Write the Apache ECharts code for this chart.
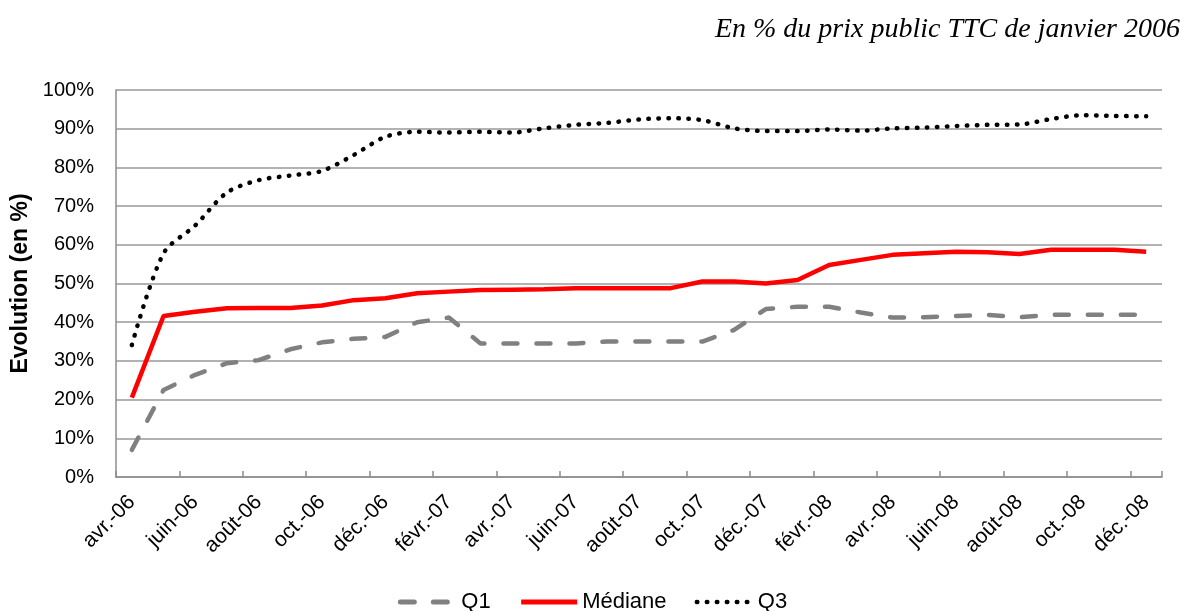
<!DOCTYPE html>
<html>
<head>
<meta charset="utf-8">
<script src="https://cdn.jsdelivr.net/npm/echarts@6/dist/echarts.min.js"></script>
<style>
html,body{margin:0;padding:0;background:#fff;}
#chart{width:1185px;height:611px;}
</style>
</head>
<body>
<div id="chart"></div>
<script>
var categories = ["avr.-06","mai-06","juin-06","juil.-06","août-06","sept.-06","oct.-06","nov.-06","déc.-06",
  "janv.-07","févr.-07","mars-07","avr.-07","mai-07","juin-07","juil.-07","août-07","sept.-07","oct.-07","nov.-07","déc.-07",
  "janv.-08","févr.-08","mars-08","avr.-08","mai-08","juin-08","juil.-08","août-08","sept.-08","oct.-08","nov.-08","déc.-08"];
var q1 = [7.0,22.5,26.4,29.4,30.2,33.0,34.8,35.7,36.2,40.0,41.2,34.5,34.5,34.5,34.5,35.0,35.0,35.0,35.0,38.0,43.4,44.0,44.0,42.5,41.2,41.3,41.6,41.9,41.3,41.9,41.9,41.9,41.9];
var mediane = [20.5,41.6,42.7,43.6,43.7,43.7,44.3,45.7,46.2,47.5,47.9,48.3,48.4,48.5,48.8,48.8,48.8,48.8,50.5,50.5,50.0,50.9,54.8,56.1,57.4,57.8,58.2,58.1,57.6,58.7,58.7,58.7,58.2];
var q3 = [34.1,57.8,65.0,73.5,76.7,77.9,79.1,83.2,87.9,89.2,89.0,89.2,89.0,90.1,91.0,91.5,92.4,92.7,92.2,90.1,89.4,89.4,89.8,89.5,90.1,90.3,90.7,91.0,91.1,92.5,93.5,93.3,93.2];
var yTicks = [0,10,20,30,40,50,60,70,80,90,100];
var titleText = "En % du prix public TTC de janvier 2006";
var yName = "Evolution (en %)";

var chart = echarts.init(document.getElementById('chart'), null, {renderer:'canvas'});
var font = "'Liberation Sans', Arial, sans-serif";
chart.setOption({
  animation: false,
  backgroundColor: '#fff',
  title: {
    text: titleText,
    right: 0, top: 11,
    textStyle: {fontFamily: "'Liberation Serif', serif", fontStyle: 'italic', fontWeight: 'normal', fontSize: 28, color: '#000'}
  },
  legend: {
    top: 586, left: 'center',
    itemWidth: 56, itemHeight: 14, itemGap: 28,
    itemStyle: {opacity: 0},
    textStyle: {fontFamily: font, fontSize: 22, color: '#000'},
    data: [
      {name: 'Q1', lineStyle: {width: 5}},
      {name: 'Médiane', lineStyle: {width: 5}},
      {name: 'Q3', lineStyle: {width: 4.5}}
    ]
  },
  grid: {left: 116, right: 23, top: 90, bottom: 134, containLabel: false},
  xAxis: {
    type: 'category',
    data: categories,
    boundaryGap: true,
    axisLine: {lineStyle: {color: '#8c8c8c', width: 1.5}},
    axisTick: {show: true, inside: true, length: 6, interval: 1, lineStyle: {color: '#8c8c8c', width: 1.5}},
    axisLabel: {interval: 1, rotate: 45, margin: 22, fontFamily: font, fontSize: 21, color: '#000'}
  },
  yAxis: {
    type: 'value', min: 0, max: 100, interval: 10,
    name: yName, nameLocation: 'middle', nameGap: 84,
    nameTextStyle: {fontFamily: font, fontSize: 23, fontWeight: 'bold', color: '#000'},
    axisLine: {show: true, lineStyle: {color: '#8c8c8c', width: 1.5}},
    axisTick: {show: false},
    axisLabel: {margin: 22, fontFamily: font, fontSize: 20, color: '#000', formatter: function(v){return v + '%';}},
    splitLine: {lineStyle: {color: '#999', width: 1.5}}
  },
  series: [
    {name: 'Q1', type: 'line', data: q1, showSymbol: false, symbol: 'none',
     lineStyle: {color: '#808080', width: 4.5, type: [14, 19], cap: 'round'}, itemStyle: {color: '#808080'}},
    {name: 'Médiane', type: 'line', data: mediane, showSymbol: false, symbol: 'none',
     lineStyle: {color: '#ff0000', width: 4.5}, itemStyle: {color: '#ff0000'}},
    {name: 'Q3', type: 'line', data: q3, showSymbol: false, symbol: 'none', smooth: 0.3,
     lineStyle: {color: '#000', width: 4.5, type: [0.5, 9.5], cap: 'round'}, itemStyle: {color: '#000'}}
  ]
});
</script>
</body>
</html>
